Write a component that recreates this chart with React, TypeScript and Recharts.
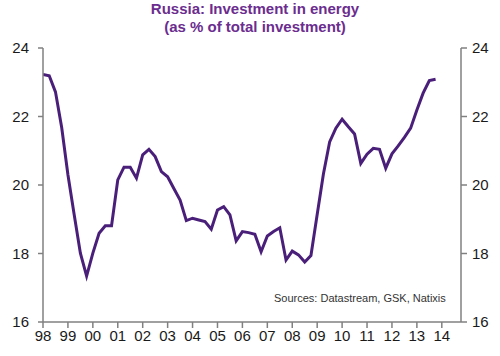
import { LineChart, Line, XAxis, YAxis } from "recharts";

// Quarterly, 1998 Q1 to 2013 Q4
const startYear = 1998;
const energyShare = [
  23.23, 23.19, 22.72, 21.68, 20.3, 19.14, 18.01, 17.34,
  18.01, 18.59, 18.81, 18.81, 20.15, 20.52, 20.52, 20.2,
  20.88, 21.04, 20.83, 20.39, 20.24, 19.9, 19.56, 18.96,
  19.03, 18.98, 18.93, 18.71, 19.27, 19.37, 19.13, 18.37,
  18.64, 18.61, 18.56, 18.05, 18.51, 18.64, 18.75, 17.81,
  18.07, 17.96, 17.75, 17.94, 19.14, 20.32, 21.26, 21.66,
  21.92, 21.7, 21.49, 20.63, 20.9, 21.07, 21.04, 20.49,
  20.91, 21.14, 21.39, 21.66, 22.19, 22.68, 23.05, 23.09,
];
const yearTicks = [
  1998, 1999, 2000, 2001, 2002, 2003, 2004, 2005, 2006, 2007, 2008, 2009,
  2010, 2011, 2012, 2013, 2014,
];
const yearLabels = [
  "98", "99", "00", "01", "02", "03", "04", "05", "06", "07", "08", "09",
  "10", "11", "12", "13", "14",
];
const valueTicks = [16, 18, 20, 22, 24];

const data = energyShare.map((v, i) => ({
  t: startYear + i * 0.25,
  share: v,
}));

const font = "'Liberation Sans', Arial, sans-serif";
const axisColor = "#808080";
const tickStyle = { fill: "#1a1a1a", fontSize: 15, fontFamily: font };

export default function App() {
  return (
    <div
      style={{
        position: "absolute",
        left: 0,
        top: 0,
        width: 500,
        height: 356,
        background: "#fff",
        fontFamily: font,
      }}
    >
      <div
        style={{
          position: "absolute",
          left: 0,
          top: 0,
          width: 510,
          textAlign: "center",
          color: "#6b2d8f",
          fontWeight: "bold",
          fontSize: 15,
          lineHeight: "18px",
        }}
      >
        Russia: Investment in energy
        <br />
        (as % of total investment)
      </div>
      <LineChart
        width={500}
        height={356}
        data={data}
        margin={{ top: 48, right: 4, bottom: 4, left: 8 }}
      >
        <XAxis
          dataKey="t"
          type="number"
          domain={[1998, 2014.77]}
          ticks={yearTicks}
          tickFormatter={(v: number) => yearLabels[yearTicks.indexOf(v)]}
          interval={0}
          height={30}
          stroke={axisColor}
          strokeWidth={1.5}
          tickSize={6}
          tick={tickStyle}
          allowDataOverflow
        />
        <YAxis
          yAxisId="left"
          domain={[16, 24]}
          ticks={valueTicks}
          width={35}
          stroke={axisColor}
          strokeWidth={1.5}
          tickSize={5}
          tickMargin={9}
          tick={tickStyle}
        />
        <YAxis
          yAxisId="right"
          orientation="right"
          domain={[16, 24]}
          ticks={valueTicks}
          width={35}
          stroke={axisColor}
          strokeWidth={1.5}
          tickSize={6}
          tickMargin={5}
          tick={{ ...tickStyle, textAnchor: "start" }}
        />
        <Line
          yAxisId="left"
          dataKey="share"
          type="linear"
          stroke="#4a1f7a"
          strokeWidth={3}
          dot={false}
          isAnimationActive={false}
        />
        <Line
          yAxisId="right"
          dataKey="share"
          type="linear"
          stroke="none"
          dot={false}
          activeDot={false}
          isAnimationActive={false}
        />
      </LineChart>
      <div
        style={{
          position: "absolute",
          left: 274,
          top: 292,
          fontSize: 11,
          color: "#333",
          whiteSpace: "nowrap",
        }}
      >
        Sources: Datastream, GSK, Natixis
      </div>
    </div>
  );
}
